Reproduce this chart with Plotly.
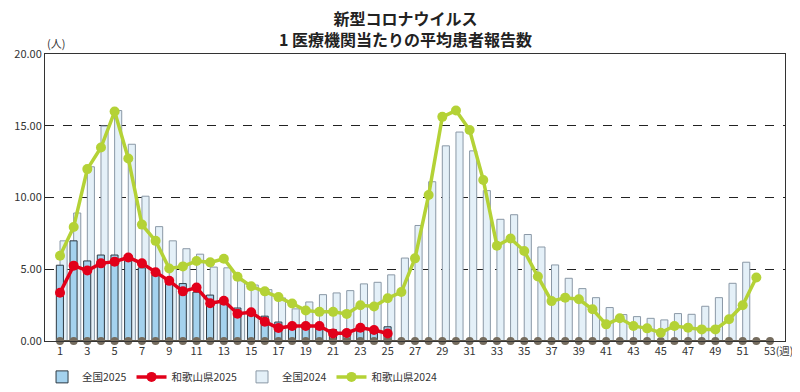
import plotly.graph_objects as go

weeks = list(range(1, 54))
weeks_2025 = list(range(1, 26))
weeks_2024_bar = list(range(1, 52))
weeks_2024_line = list(range(1, 53))

national_2025 = [5.28, 6.98, 5.58, 5.99, 5.99, 5.6, 5.1, 4.6, 4.1, 4.0,
                 3.4, 3.2, 2.9, 2.3, 2.1, 1.73, 1.32, 1.1, 1.0, 0.95,
                 0.8, 0.75, 0.85, 0.9, 0.99]
wakayama_2025 = [3.36, 5.25, 4.91, 5.41, 5.53, 5.82, 5.41, 4.79, 4.19, 3.46,
                 3.72, 2.63, 2.8, 1.9, 2.0, 1.35, 0.9, 1.04, 1.04, 1.04,
                 0.52, 0.56, 0.92, 0.77, 0.52]
national_2024 = [6.98, 8.92, 12.14, 14.98, 16.06, 13.71, 10.09, 7.97, 6.98, 6.43,
                 6.05, 5.15, 5.1, 4.2, 3.9, 3.58, 3.0, 2.24, 2.72, 3.23,
                 3.35, 3.51, 3.98, 4.09, 4.61, 5.78, 8.05, 11.1, 13.6, 14.56,
                 13.25, 10.48, 8.48, 8.8, 7.42, 6.55, 5.3, 4.37, 3.65, 3.02,
                 2.33, 1.84, 1.7, 1.58, 1.47, 1.91, 1.86, 2.42, 3.02, 4.02, 5.49]
wakayama_2024 = [5.94, 7.95, 11.98, 13.48, 15.99, 12.72, 8.11, 6.98, 5.05, 5.2,
                 5.57, 5.48, 5.73, 4.48, 3.81, 3.46, 3.06, 2.61, 2.13, 2.03,
                 2.03, 1.89, 2.49, 2.4, 2.98, 3.41, 5.76, 10.17, 15.62, 16.06,
                 14.7, 11.22, 6.64, 7.14, 6.27, 4.49, 2.78, 3.02, 2.91, 2.21,
                 1.16, 1.58, 1.05, 0.88, 0.58, 1.05, 0.93, 0.81, 0.81, 1.51,
                 2.49, 4.42]
baseline = [0] * 53

x_tickvals = list(range(1, 52, 2))
x_ticktext = [str(v) for v in x_tickvals]
last_week = 53
last_week_label = "53(週)"
y_tickvals = [0, 5, 10, 15, 20]

title_line1 = "新型コロナウイルス"
title_line2 = "1 医療機関当たりの平均患者報告数"

FONT = "Noto Sans CJK JP"

fig = go.Figure()

fig.add_trace(go.Bar(
    x=weeks_2024_bar, y=national_2024, name="全国2024",
    width=0.52, offset=0.0,
    marker=dict(color="#e4f0f8", line=dict(color="#8a98a6", width=1)),
    legendrank=3,
))
fig.add_trace(go.Bar(
    x=weeks_2025, y=national_2025, name="全国2025",
    width=0.52, offset=-0.27,
    marker=dict(color="#a4d2ee", line=dict(color="#2d3a44", width=1)),
    legendrank=1,
))
fig.add_trace(go.Scatter(
    x=weeks, y=baseline, mode="lines+markers", showlegend=False,
    line=dict(color="#5f584c", width=2),
    marker=dict(color="#756c5e", size=8),
    hoverinfo="skip", cliponaxis=False,
))
fig.add_trace(go.Scatter(
    x=weeks_2024_line, y=wakayama_2024, name="和歌山県2024",
    mode="lines+markers",
    line=dict(color="#b4d236", width=3.5),
    marker=dict(color="#b4d236", size=10),
    legendrank=4,
))
fig.add_trace(go.Scatter(
    x=weeks_2025, y=wakayama_2025, name="和歌山県2025",
    mode="lines+markers",
    line=dict(color="#e2001a", width=3.5),
    marker=dict(color="#e2001a", size=10),
    legendrank=2,
))

# page body has an 8px default margin, so the figure is sized to fit the window
fig.update_layout(
    width=792, height=384,
    margin=dict(l=37, r=15, t=46, b=51, autoexpand=False),
    paper_bgcolor="white", plot_bgcolor="white",
    barmode="overlay",
    font=dict(family=FONT, size=11, color="#333333"),
    legend=dict(
        orientation="h", x=-0.004, xanchor="left", y=-0.125, yanchor="middle",
        font=dict(family=FONT, size=10.5, color="#333333"),
        itemwidth=30, traceorder="normal",
        bgcolor="rgba(0,0,0,0)",
    ),
    showlegend=True,
)

fig.update_xaxes(
    range=[-0.1, 54.1], automargin=False,
    tickmode="array", tickvals=x_tickvals, ticktext=x_ticktext,
    showgrid=False, zeroline=False,
    showline=True, linecolor="#333333", linewidth=1, mirror=True,
    ticks="", tickfont=dict(size=11, color="#333333"),
)
fig.update_yaxes(
    range=[0, 20], automargin=False,
    tickmode="array", tickvals=y_tickvals, tickformat=".2f",
    showgrid=True, gridcolor="#222222", griddash="dash", gridwidth=1,
    zeroline=False,
    showline=True, linecolor="#333333", linewidth=1, mirror=True,
    ticks="", tickfont=dict(size=11, color="#333333"),
)

fig.add_annotation(
    text="<b>" + title_line1 + "<br>" + title_line2 + "</b>",
    xref="paper", yref="paper",
    x=0.487, y=1.088, xanchor="center", yanchor="middle", borderpad=0,
    showarrow=False, font=dict(family=FONT, size=16, color="#222222"),
)
fig.add_annotation(
    text="(人)", xref="paper", yref="paper", x=0.0, y=1.0,
    xanchor="left", yanchor="bottom", xshift=0, yshift=1,
    showarrow=False, font=dict(family=FONT, size=11, color="#333333"),
)
fig.add_annotation(
    text=last_week_label, xref="x", yref="paper", x=last_week, y=0.0,
    xanchor="left", yanchor="top", xshift=-7, yshift=-1, borderpad=0,
    showarrow=False, font=dict(family=FONT, size=10.5, color="#333333"),
)

fig.write_html("out.html")
